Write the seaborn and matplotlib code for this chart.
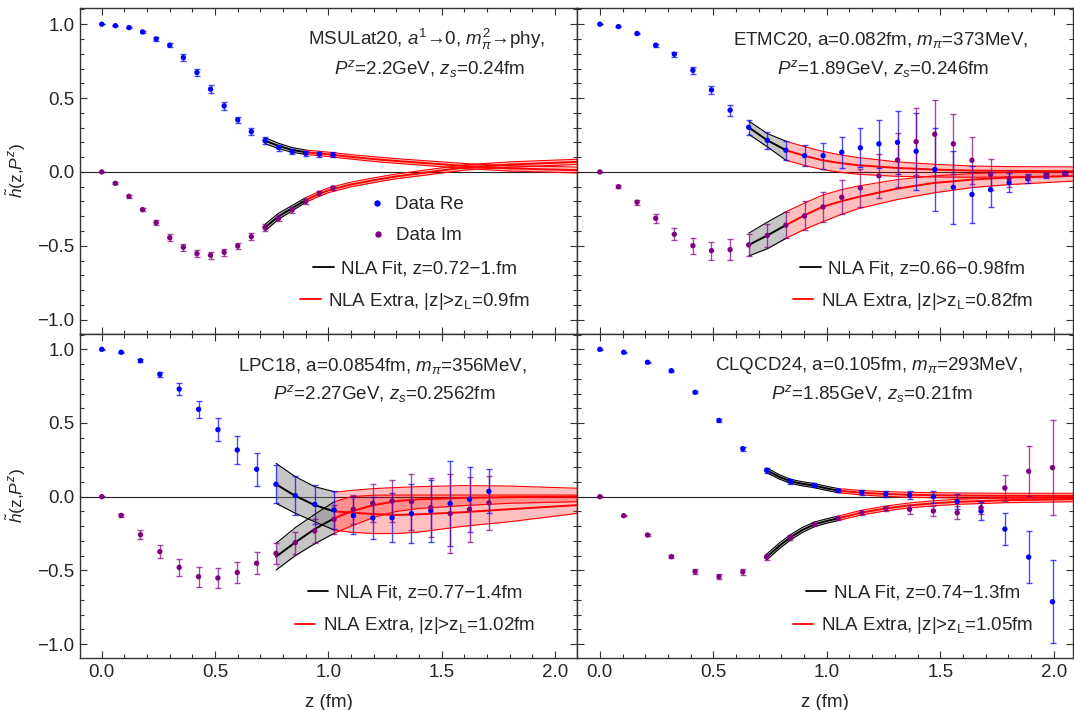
import numpy as np
import matplotlib
matplotlib.use("Agg")
import matplotlib.pyplot as plt
import seaborn as sns
from matplotlib.lines import Line2D
from matplotlib.legend import Legend
from matplotlib.ticker import MultipleLocator

# ---------------- MSULat20 ----------------
msu_a = 0.06
msu_re = [1.0, 0.99, 0.977, 0.948, 0.90, 0.858, 0.774, 0.673, 0.56, 0.447, 0.352, 0.273,
          0.212, 0.165, 0.138, 0.126, 0.12, 0.115]
msu_re_err = [0.002, 0.005, 0.006, 0.008, 0.012, 0.015, 0.022, 0.024, 0.026, 0.026, 0.02, 0.026,
              0.025, 0.02, 0.018, 0.017, 0.017, 0.017]
msu_im = [0.0, -0.077, -0.165, -0.255, -0.343, -0.445, -0.51, -0.553, -0.564, -0.544, -0.501,
          -0.438, -0.377, -0.314, -0.257, -0.199, -0.144, -0.108]
msu_im_err = [0.002, 0.006, 0.01, 0.012, 0.016, 0.022, 0.025, 0.025, 0.025, 0.024, 0.022, 0.026,
              0.024, 0.02, 0.018, 0.015, 0.012, 0.012]
msu_fit_z = [0.72, 0.78, 0.84, 0.9]
msu_fit_re = [0.212, 0.176, 0.149, 0.133]
msu_fit_re_lo = [0.192, 0.158, 0.133, 0.118]
msu_fit_re_hi = [0.232, 0.194, 0.165, 0.148]
msu_fit_im = [-0.377, -0.30, -0.245, -0.19]
msu_fit_im_lo = [-0.399, -0.32, -0.263, -0.206]
msu_fit_im_hi = [-0.355, -0.28, -0.227, -0.174]
msu_ext_z = [0.9, 0.95, 1.0, 1.1, 1.2, 1.3, 1.4, 1.6, 1.8, 2.1]
msu_ext_re = [0.133, 0.126, 0.119, 0.102, 0.087, 0.074, 0.063, 0.04, 0.024, 0.012]
msu_ext_re_lo = [0.118, 0.111, 0.104, 0.087, 0.071, 0.058, 0.047, 0.023, 0.006, -0.007]
msu_ext_re_hi = [0.148, 0.141, 0.134, 0.117, 0.103, 0.090, 0.079, 0.057, 0.042, 0.033]
msu_ext_im = [-0.19, -0.155, -0.124, -0.085, -0.056, -0.03, -0.01, 0.03, 0.05, 0.068]
msu_ext_im_lo = [-0.206, -0.171, -0.14, -0.101, -0.072, -0.046, -0.027, 0.012, 0.032, 0.051]
msu_ext_im_hi = [-0.174, -0.139, -0.108, -0.069, -0.040, -0.014, 0.007, 0.048, 0.068, 0.086]

# ---------------- ETMC20 ----------------
etmc_a = 0.082
etmc_re = [1.0, 0.984, 0.937, 0.858, 0.797, 0.688, 0.555, 0.418, 0.302, 0.214, 0.147, 0.11,
           0.11, 0.133, 0.163, 0.19, 0.2, 0.14, 0.016, -0.104, -0.153, -0.12, -0.072, -0.045,
           -0.023, -0.011]
etmc_re_err = [0.002, 0.004, 0.006, 0.009, 0.016, 0.023, 0.03, 0.038, 0.05, 0.056, 0.064, 0.073,
               0.089, 0.105, 0.132, 0.163, 0.214, 0.26, 0.28, 0.248, 0.19, 0.12, 0.064, 0.03,
               0.015, 0.01]
etmc_im = [0.0, -0.1, -0.205, -0.314, -0.422, -0.499, -0.533, -0.526, -0.494, -0.43, -0.36,
           -0.298, -0.237, -0.172, -0.108, -0.027, 0.081, 0.205, 0.255, 0.19, 0.079, -0.016,
           -0.045, -0.038, -0.023, -0.016]
etmc_im_err = [0.002, 0.012, 0.018, 0.03, 0.04, 0.055, 0.062, 0.07, 0.077, 0.079, 0.09, 0.098,
               0.1, 0.116, 0.13, 0.15, 0.184, 0.225, 0.235, 0.203, 0.158, 0.105, 0.06, 0.02,
               0.01, 0.008]
etmc_fit_z = [0.656, 0.738, 0.82]
etmc_fit_re = [0.302, 0.214, 0.147]
etmc_fit_re_lo = [0.255, 0.17, 0.079]
etmc_fit_re_hi = [0.345, 0.26, 0.208]
etmc_fit_im = [-0.494, -0.43, -0.36]
etmc_fit_im_lo = [-0.569, -0.52, -0.45]
etmc_fit_im_hi = [-0.415, -0.34, -0.27]
etmc_ext_z = [0.82, 0.9, 0.98, 1.06, 1.14, 1.31, 1.47, 1.64, 1.8, 2.1]
etmc_ext_re = [0.147, 0.11, 0.079, 0.06, 0.045, 0.027, 0.016, 0.009, 0.007, 0.005]
etmc_ext_re_lo = [0.079, 0.045, 0.016, -0.003, -0.016, -0.03, -0.034, -0.036, -0.034, -0.03]
etmc_ext_re_hi = [0.208, 0.172, 0.14, 0.115, 0.097, 0.068, 0.052, 0.04, 0.036, 0.034]
etmc_ext_im = [-0.36, -0.295, -0.237, -0.2, -0.169, -0.113, -0.075, -0.052, -0.038, -0.027]
etmc_ext_im_lo = [-0.45, -0.39, -0.339, -0.29, -0.248, -0.187, -0.142, -0.106, -0.086, -0.061]
etmc_ext_im_hi = [-0.27, -0.212, -0.158, -0.122, -0.095, -0.052, -0.027, -0.011, -0.004, 0.0]

# ---------------- LPC18 ----------------
lpc_a = 0.0854
lpc_re = [1.0, 0.98, 0.923, 0.83, 0.73, 0.593, 0.455, 0.317, 0.186, 0.084, 0.007, -0.052,
          -0.09, -0.129, -0.145, -0.143, -0.115, -0.095, -0.047, -0.018, 0.036]
lpc_re_err = [0.002, 0.005, 0.008, 0.017, 0.04, 0.057, 0.079, 0.097, 0.113, 0.13, 0.133, 0.131,
              0.13, 0.127, 0.145, 0.166, 0.2, 0.21, 0.29, 0.22, 0.15]
lpc_im = [0.0, -0.127, -0.258, -0.373, -0.48, -0.543, -0.552, -0.514, -0.452, -0.385, -0.312,
          -0.233, -0.154, -0.086, -0.045, -0.03, -0.034, -0.075, -0.115, -0.086, -0.043]
lpc_im_err = [0.002, 0.009, 0.03, 0.043, 0.059, 0.068, 0.071, 0.074, 0.075, 0.071, 0.074, 0.081,
              0.1, 0.1, 0.13, 0.14, 0.19, 0.2, 0.27, 0.22, 0.18]
lpc_fit_z = [0.769, 0.854, 0.939, 1.025]
lpc_fit_re = [0.084, 0.005, -0.057, -0.10]
lpc_fit_re_lo = [-0.045, -0.113, -0.17, -0.226]
lpc_fit_re_hi = [0.226, 0.136, 0.068, 0.034]
lpc_fit_im = [-0.407, -0.31, -0.22, -0.147]
lpc_fit_im_lo = [-0.498, -0.40, -0.32, -0.249]
lpc_fit_im_hi = [-0.317, -0.21, -0.12, -0.035]
lpc_ext_z = [1.025, 1.1, 1.2, 1.3, 1.4, 1.6, 1.8, 2.1]
lpc_ext_re = [-0.10, -0.108, -0.118, -0.124, -0.12, -0.105, -0.085, -0.057]
lpc_ext_re_lo = [-0.226, -0.242, -0.25, -0.25, -0.24, -0.2, -0.17, -0.113]
lpc_ext_re_hi = [0.03, 0.042, 0.055, 0.062, 0.068, 0.075, 0.072, 0.057]
lpc_ext_im = [-0.147, -0.1, -0.057, -0.03, -0.018, -0.008, -0.003, 0.0]
lpc_ext_im_lo = [-0.249, -0.2, -0.14, -0.1, -0.08, -0.06, -0.045, -0.034]
lpc_ext_im_hi = [-0.035, 0.0, 0.01, 0.011, 0.011, 0.011, 0.011, 0.011]

# ---------------- CLQCD24 ----------------
clq_a = 0.105
clq_re = [1.0, 0.98, 0.912, 0.855, 0.708, 0.518, 0.326, 0.179, 0.104, 0.077, 0.041, 0.029,
          0.018, 0.011, 0.0, -0.034, -0.097, -0.22, -0.41, -0.713]
clq_re_err = [0.002, 0.004, 0.005, 0.006, 0.006, 0.01, 0.013, 0.016, 0.015, 0.013, 0.012, 0.015,
              0.02, 0.03, 0.04, 0.05, 0.06, 0.11, 0.175, 0.28]
clq_im = [0.0, -0.129, -0.26, -0.407, -0.509, -0.543, -0.511, -0.41, -0.276, -0.188, -0.147,
          -0.109, -0.08, -0.086, -0.097, -0.109, -0.075, 0.059, 0.172, 0.197]
clq_im_err = [0.002, 0.005, 0.007, 0.01, 0.016, 0.018, 0.018, 0.018, 0.016, 0.014, 0.012, 0.015,
              0.015, 0.03, 0.035, 0.045, 0.045, 0.09, 0.17, 0.32]
clq_fit_z = [0.735, 0.79, 0.84, 0.89, 0.945, 1.0, 1.05]
clq_fit_re = [0.179, 0.135, 0.104, 0.088, 0.075, 0.056, 0.041]
clq_fit_re_lo = [0.163, 0.12, 0.09, 0.074, 0.061, 0.042, 0.027]
clq_fit_re_hi = [0.195, 0.15, 0.118, 0.102, 0.089, 0.07, 0.055]
clq_fit_im = [-0.41, -0.335, -0.276, -0.228, -0.188, -0.165, -0.147]
clq_fit_im_lo = [-0.43, -0.354, -0.294, -0.245, -0.204, -0.18, -0.162]
clq_fit_im_hi = [-0.39, -0.316, -0.258, -0.211, -0.172, -0.15, -0.132]
clq_ext_z = [1.05, 1.15, 1.26, 1.36, 1.47, 1.575, 1.785, 2.1]
clq_ext_re = [0.041, 0.027, 0.018, 0.013, 0.01, 0.008, 0.006, 0.006]
clq_ext_re_lo = [0.027, 0.012, 0.002, -0.004, -0.007, -0.009, -0.01, -0.01]
clq_ext_re_hi = [0.055, 0.042, 0.034, 0.03, 0.027, 0.025, 0.023, 0.023]
clq_ext_im = [-0.147, -0.109, -0.08, -0.06, -0.045, -0.035, -0.024, -0.017]
clq_ext_im_lo = [-0.162, -0.125, -0.096, -0.077, -0.062, -0.052, -0.041, -0.034]
clq_ext_im_hi = [-0.132, -0.093, -0.064, -0.043, -0.028, -0.018, -0.007, 0.0]

BLUE = "#0000ff"
PURPLE = "#800080"
FS = 13.5

sns.set_theme(style="ticks")
plt.rcParams["font.family"] = ["Liberation Sans", "DejaVu Sans"]
plt.rcParams["mathtext.fontset"] = "custom"
plt.rcParams["mathtext.rm"] = "Liberation Sans"
plt.rcParams["mathtext.it"] = "Liberation Sans:italic"
plt.rcParams["mathtext.bf"] = "Liberation Sans:bold"


def band(ax, z, c, lo, hi, edge, fill, alpha):
    ax.fill_between(z, lo, hi, color=fill, alpha=alpha, lw=0, zorder=2)
    ax.plot(z, lo, color=edge, lw=0.8, zorder=3)
    ax.plot(z, hi, color=edge, lw=0.8, zorder=3)
    sns.lineplot(x=z, y=c, ax=ax, color=edge, lw=1.4, sort=False, estimator=None, zorder=3)


def data(ax, a, vals, errs, color):
    z = a * np.arange(len(vals))
    ax.errorbar(z, vals, yerr=errs, fmt="none", ecolor=color, alpha=0.7,
                elinewidth=1.0, capsize=2.3, capthick=1.0, zorder=4)
    sns.scatterplot(x=z, y=vals, ax=ax, color=color, s=15, edgecolor="none", zorder=5)


def legend_row(ax, handle, label, x, y):
    leg = Legend(ax, [handle], [label], loc="center", bbox_to_anchor=(x, y),
                 frameon=False, fontsize=FS, handlelength=1.1, handletextpad=0.4,
                 borderpad=0, borderaxespad=0)
    ax.add_artist(leg)


fig = plt.figure(figsize=(10.74, 7.10), dpi=100)
rects = [[0.0745, 0.5296, 0.4628, 0.4592], [0.5372, 0.5296, 0.4618, 0.4592],
         [0.0745, 0.0732, 0.4628, 0.4564], [0.5372, 0.0732, 0.4618, 0.4564]]
axes = [fig.add_axes(r) for r in rects]

panels = [
    dict(a=msu_a, re=msu_re, re_err=msu_re_err, im=msu_im, im_err=msu_im_err,
         fit=(msu_fit_z, msu_fit_re, msu_fit_re_lo, msu_fit_re_hi, msu_fit_im, msu_fit_im_lo, msu_fit_im_hi),
         ext=(msu_ext_z, msu_ext_re, msu_ext_re_lo, msu_ext_re_hi, msu_ext_im, msu_ext_im_lo, msu_ext_im_hi),
         t1="MSULat20, $a^1$\u21920, $m^2_\\pi$\u2192phy,", t2="$P^z$=2.2GeV, $z_s$=0.24fm", tx=0.698,
         fitlab="NLA Fit, z=0.72\u22121.fm", extlab="NLA Extra, |z|>z$_{\\rm L}$=0.9fm"),
    dict(a=etmc_a, re=etmc_re, re_err=etmc_re_err, im=etmc_im, im_err=etmc_im_err,
         fit=(etmc_fit_z, etmc_fit_re, etmc_fit_re_lo, etmc_fit_re_hi, etmc_fit_im, etmc_fit_im_lo, etmc_fit_im_hi),
         ext=(etmc_ext_z, etmc_ext_re, etmc_ext_re_lo, etmc_ext_re_hi, etmc_ext_im, etmc_ext_im_lo, etmc_ext_im_hi),
         t1="ETMC20, a=0.082fm, $m_\\pi$=373MeV,", t2="$P^z$=1.89GeV, $z_s$=0.246fm", tx=0.613,
         fitlab="NLA Fit, z=0.66\u22120.98fm", extlab="NLA Extra, |z|>z$_{\\rm L}$=0.82fm"),
    dict(a=lpc_a, re=lpc_re, re_err=lpc_re_err, im=lpc_im, im_err=lpc_im_err,
         fit=(lpc_fit_z, lpc_fit_re, lpc_fit_re_lo, lpc_fit_re_hi, lpc_fit_im, lpc_fit_im_lo, lpc_fit_im_hi),
         ext=(lpc_ext_z, lpc_ext_re, lpc_ext_re_lo, lpc_ext_re_hi, lpc_ext_im, lpc_ext_im_lo, lpc_ext_im_hi),
         t1="LPC18, a=0.0854fm, $m_\\pi$=356MeV,", t2="$P^z$=2.27GeV, $z_s$=0.2562fm", tx=0.608,
         fitlab="NLA Fit, z=0.77\u22121.4fm", extlab="NLA Extra, |z|>z$_{\\rm L}$=1.02fm"),
    dict(a=clq_a, re=clq_re, re_err=clq_re_err, im=clq_im, im_err=clq_im_err,
         fit=(clq_fit_z, clq_fit_re, clq_fit_re_lo, clq_fit_re_hi, clq_fit_im, clq_fit_im_lo, clq_fit_im_hi),
         ext=(clq_ext_z, clq_ext_re, clq_ext_re_lo, clq_ext_re_hi, clq_ext_im, clq_ext_im_lo, clq_ext_im_hi),
         t1="CLQCD24, a=0.105fm, $m_\\pi$=293MeV,", t2="$P^z$=1.85GeV, $z_s$=0.21fm", tx=0.589,
         fitlab="NLA Fit, z=0.74\u22121.3fm", extlab="NLA Extra, |z|>z$_{\\rm L}$=1.05fm"),
]

for i, (ax, p) in enumerate(zip(axes, panels)):
    ax.axhline(0, color="#222222", lw=0.8, zorder=1.5)

    fz, fre, frel, freh, fim, fiml, fimh = p["fit"]
    band(ax, fz, fre, frel, freh, "black", "gray", 0.45)
    band(ax, fz, fim, fiml, fimh, "black", "gray", 0.45)
    ez, ere, erel, ereh, eim, eiml, eimh = p["ext"]
    band(ax, ez, ere, erel, ereh, "red", "red", 0.25)
    band(ax, ez, eim, eiml, eimh, "red", "red", 0.25)

    data(ax, p["a"], p["re"], p["re_err"], BLUE)
    data(ax, p["a"], p["im"], p["im_err"], PURPLE)

    top = i < 2
    ax.text(p["tx"], 0.902 if top else 0.902, p["t1"], transform=ax.transAxes,
            ha="center", va="center", fontsize=FS)
    ax.text(p["tx"] + 0.005, 0.815 if top else 0.817, p["t2"], transform=ax.transAxes,
            ha="center", va="center", fontsize=FS)

    lx = 0.674 if i % 2 == 0 else 0.677
    if i == 0:
        legend_row(ax, Line2D([], [], ls="none", marker="o", ms=3.6, color=BLUE), "Data Re", lx, 0.396)
        legend_row(ax, Line2D([], [], ls="none", marker="o", ms=3.6, color=PURPLE), "Data Im", lx, 0.301)
    legend_row(ax, Line2D([], [], color="black", lw=1.3), p["fitlab"], lx, 0.2)
    legend_row(ax, Line2D([], [], color="red", lw=1.3), p["extlab"], lx, 0.1)

    if i % 2 == 0:
        ax.set_xlim(-0.096, 2.097)
    else:
        ax.set_xlim(-0.101, 2.085)
    if top:
        ax.set_ylim(-1.097, 1.11)
    else:
        ax.set_ylim(-1.095, 1.104)

    ax.xaxis.set_major_locator(MultipleLocator(0.5))
    ax.xaxis.set_minor_locator(MultipleLocator(0.1))
    ax.yaxis.set_major_locator(MultipleLocator(0.5))
    ax.yaxis.set_minor_locator(MultipleLocator(0.1))
    ax.tick_params(which="both", direction="in", top=True, right=True, width=0.8,
                   color="#333333", labelsize=FS, pad=4)
    ax.tick_params(which="major", length=5)
    ax.tick_params(which="minor", length=3)
    for s in ax.spines.values():
        s.set_linewidth(1.0)
        s.set_color("#333333")

    if top:
        ax.tick_params(labelbottom=False)
        ax.set_xlabel("")
    else:
        ax.set_xlabel("z (fm)", fontsize=FS, labelpad=10)
    if i % 2 == 1:
        ax.tick_params(labelleft=False)
        ax.set_ylabel("")
    else:
        ax.set_ylabel("$\\tilde{h}$(z,$P^z$)", fontsize=12.5, va="center")
        ax.yaxis.set_label_coords(-0.128, 0.5)

fig.savefig("out.png", dpi=100)
